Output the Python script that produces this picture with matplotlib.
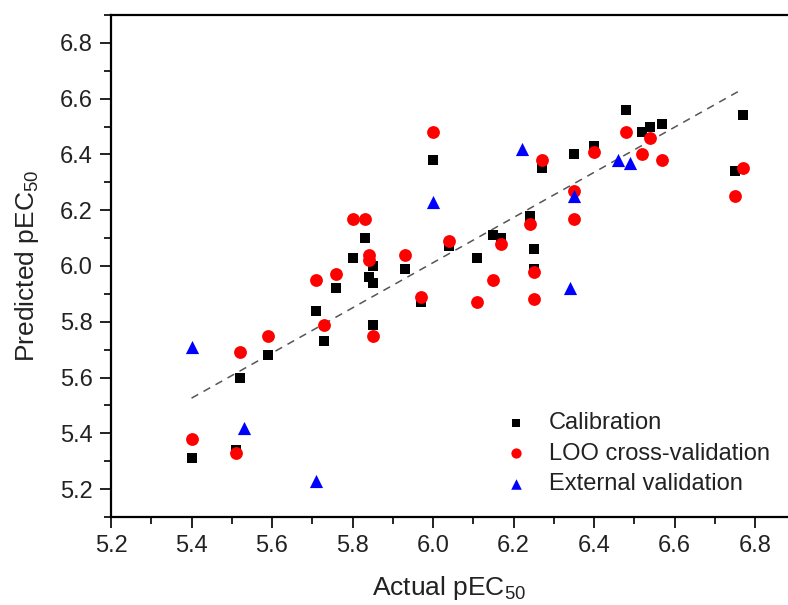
import numpy as np
import matplotlib
matplotlib.use('Agg')
import matplotlib.pyplot as plt
from matplotlib.ticker import MultipleLocator

plt.rcParams['font.family'] = ['Liberation Sans', 'DejaVu Sans']
plt.rcParams['mathtext.default'] = 'regular'

# Calibration (squares)
cal_x = [5.40, 5.51, 5.52, 5.59, 5.71, 5.73, 5.76, 5.80, 5.83, 5.84, 5.85, 5.85, 5.85,
         5.93, 5.97, 6.00, 6.04, 6.11, 6.15, 6.17, 6.24, 6.25, 6.25, 6.27, 6.35, 6.40,
         6.48, 6.52, 6.54, 6.57, 6.75, 6.77]
cal_y = [5.31, 5.34, 5.60, 5.68, 5.84, 5.73, 5.92, 6.03, 6.10, 5.96, 5.94, 6.00, 5.79,
         5.99, 5.87, 6.38, 6.07, 6.03, 6.11, 6.10, 6.18, 6.06, 5.99, 6.35, 6.40, 6.43,
         6.56, 6.48, 6.50, 6.51, 6.34, 6.54]

# LOO cross-validation (circles)
loo_x = [5.40, 5.51, 5.52, 5.59, 5.71, 5.73, 5.76, 5.80, 5.83, 5.84, 5.84, 5.85,
         5.93, 5.97, 6.00, 6.04, 6.11, 6.15, 6.17, 6.24, 6.25, 6.25, 6.27, 6.35, 6.35,
         6.40, 6.48, 6.52, 6.54, 6.57, 6.75, 6.77]
loo_y = [5.38, 5.33, 5.69, 5.75, 5.95, 5.79, 5.97, 6.17, 6.17, 6.04, 6.02, 5.75,
         6.04, 5.89, 6.48, 6.09, 5.87, 5.95, 6.08, 6.15, 5.98, 5.88, 6.38, 6.27, 6.17,
         6.41, 6.48, 6.40, 6.46, 6.38, 6.25, 6.35]

# External validation (triangles)
ext_x = [5.40, 5.53, 5.71, 6.00, 6.22, 6.35, 6.34, 6.46, 6.49]
ext_y = [5.71, 5.42, 5.23, 6.23, 6.42, 6.25, 5.92, 6.38, 6.37]

# fitted line ends
fit_x = [5.40, 6.77]
fit_y = [5.526, 6.635]

fig = plt.figure(figsize=(7.88, 6.05), dpi=100)
ax = fig.add_axes([0.1409, 0.1455, 0.8591, 0.8298])

ax.plot(fit_x, fit_y, ls=(0, (5, 4)), color='#555555', lw=1.1, zorder=1)
ax.scatter(cal_x, cal_y, marker='s', s=58, color='black', lw=0, zorder=2, label='Calibration')
ax.scatter(loo_x, loo_y, marker='o', s=85, color='#ff0000', lw=0, zorder=3, label='LOO cross-validation')
ax.scatter(ext_x, ext_y, marker='^', s=90, color='#0000ff', lw=0, zorder=4, label='External validation')

ax.set_xlim(5.2, 6.882)
ax.set_ylim(5.1, 6.9)
ax.xaxis.set_major_locator(MultipleLocator(0.2))
ax.xaxis.set_minor_locator(MultipleLocator(0.1))
ax.yaxis.set_major_locator(MultipleLocator(0.2))
ax.yaxis.set_minor_locator(MultipleLocator(0.1))
ax.xaxis.set_major_formatter(matplotlib.ticker.FormatStrFormatter('%.1f'))
ax.yaxis.set_major_formatter(matplotlib.ticker.FormatStrFormatter('%.1f'))

ax.spines['right'].set_visible(False)
for s in ['left', 'bottom', 'top']:
    ax.spines[s].set_linewidth(1.6)
ax.tick_params(which='major', direction='out', length=8, width=1.4, labelsize=17,
               colors='#222222', pad=5)
ax.tick_params(which='minor', direction='out', length=5, width=1.2)
ax.tick_params(top=False, right=False)

ax.set_xlabel('Actual pEC$_{50}$', fontsize=19, color='#222222', labelpad=12)
ax.set_ylabel('Predicted pEC$_{50}$', fontsize=19, color='#222222', labelpad=14)

ax.legend(loc='lower left', bbox_to_anchor=(0.535, 0.006), frameon=False, fontsize=17,
          handletextpad=0.4, labelspacing=0.36, borderpad=0.3, scatterpoints=1,
          markerscale=0.8, labelcolor='#222222')

fig.savefig('out.png', dpi=100)
